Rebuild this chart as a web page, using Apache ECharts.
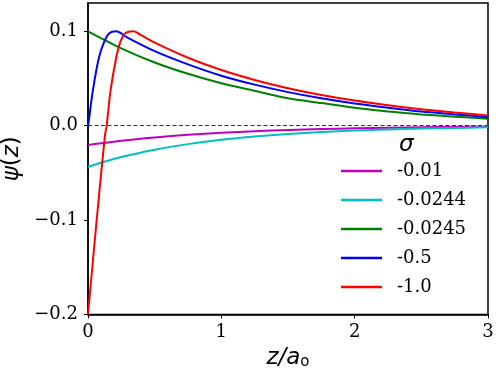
<!DOCTYPE html>
<html lang="en">
  <head>
    <meta charset="UTF-8" />
    <title>psi(z)</title>
    <script src="https://cdn.jsdelivr.net/npm/echarts@6.0.0/dist/echarts.min.js"></script>
    <style>
      body { margin: 0; background: #fff; }
    </style>
  </head>
  <body>
    <div id="main" style="width: 498px; height: 374px"></div>
    <script type="text/javascript">
      // values
      const sigmas = ["-0.01", "-0.0244", "-0.0245", "-0.5", "-1.0"];
      const colors = ["#bf00bf", "#00bfbf", "#008000", "#0000ff", "#ff0000"];
      const yTicks = [-0.2, -0.1, 0.0, 0.1];

      const zTail = [0, 0.25, 0.5, 0.75, 1, 1.25, 1.5, 1.75, 2, 2.25, 2.5, 2.75, 3];
      const psiMagenta = [-0.0204, -0.0159, -0.0124, -0.0096, -0.0075, -0.0058, -0.0046, -0.0035, -0.0028, -0.0021, -0.0017, -0.0013, -0.001];
      const psiCyan = [-0.0434, -0.0332, -0.0254, -0.0195, -0.0149, -0.0114, -0.0087, -0.0067, -0.0051, -0.0039, -0.003, -0.0023, -0.0017];
      const psiGreen = [0.1, 0.082, 0.067, 0.055, 0.045, 0.037, 0.029, 0.024, 0.019, 0.015, 0.012, 0.0095, 0.0075];

      const zBlue = [0, 0.005, 0.035, 0.08, 0.122, 0.16, 0.21, 0.3, 0.5, 0.75, 1, 1.25, 1.5, 1.75, 2, 2.25, 2.5, 2.75, 3];
      const psiBlue = [0, 0.004, 0.036, 0.071, 0.089, 0.098, 0.1, 0.093, 0.079, 0.065, 0.053, 0.0435, 0.0356, 0.029, 0.0235, 0.019, 0.015, 0.012, 0.009];

      const zRed = [0, 0.065, 0.1275, 0.14, 0.168, 0.21, 0.243, 0.28, 0.34, 0.4, 0.5, 0.75, 1, 1.25, 1.5, 1.75, 2, 2.25, 2.5, 2.75, 3];
      const psiRed = [-0.2, -0.1, -0.01, 0, 0.036, 0.071, 0.089, 0.098, 0.1, 0.0957, 0.088, 0.072, 0.059, 0.0485, 0.0397, 0.0325, 0.0266, 0.0218, 0.0175, 0.014, 0.0107];

      const zs = [zTail, zTail, zTail, zBlue, zRed];
      const psis = [psiMagenta, psiCyan, psiGreen, psiBlue, psiRed];

      const serif = "DejaVu Serif";
      const sans = "DejaVu Sans";
      const fmtMinus = (v) => (v < 0 ? "\u2212" : "") + Math.abs(v).toFixed(1);

      const series = sigmas.map((name, i) => ({
        name: name,
        type: "line",
        data: zs[i].map((z, j) => [z, psis[i][j]]),
        showSymbol: false,
        symbol: "none",
        smooth: 0.3,
        sampling: null,
        lineStyle: { color: colors[i], width: 2 },
        itemStyle: { color: colors[i] },
        z: 3 + i,
      }));
      series[0].markLine = {
        silent: true,
        symbol: ["none", "none"],
        label: { show: false },
        lineStyle: { color: "#333", type: [4, 2.5], width: 1.2 },
        data: [{ yAxis: 0 }],
      };

      const options = {
        animation: false,
        grid: {
          left: 88, top: 3, width: 400, height: 311.5,
          outerBoundsMode: "none", containLabel: false,
          show: true, borderColor: "#000", borderWidth: 1.5,
        },
        xAxis: {
          type: "value", min: 0, max: 3, interval: 1,
          name: "{i|z/a}{s|o}",
          nameLocation: "middle", nameGap: 29,
          nameTextStyle: {
            rich: {
              i: { fontFamily: sans, fontStyle: "italic", fontSize: 23, color: "#000" },
              s: { fontFamily: sans, fontSize: 15, color: "#000", verticalAlign: "bottom", padding: [8, 0, 0, 0] },
            },
          },
          axisLine: { onZero: false, lineStyle: { color: "#000", width: 1.5 } },
          axisTick: { length: 4, lineStyle: { color: "#000", width: 1 } },
          axisLabel: {
            margin: 9, fontFamily: serif, fontSize: 18, color: "#000",
            formatter: (v) => String(v),
          },
          splitLine: { show: false },
        },
        yAxis: {
          type: "value", min: -0.2, max: 0.13,
          name: "{i|\u03c8}{n|(}{i|z}{n|)}",
          nameLocation: "middle", nameGap: 58, nameRotate: 90,
          nameTextStyle: {
            rich: {
              i: { fontFamily: sans, fontStyle: "italic", fontSize: 23, color: "#000" },
              n: { fontFamily: sans, fontSize: 23, color: "#000" },
            },
          },
          axisLine: { lineStyle: { color: "#000", width: 1.5 } },
          axisTick: { length: 4, customValues: yTicks, lineStyle: { color: "#000", width: 1 } },
          axisLabel: {
            margin: 10, fontFamily: serif, fontSize: 18, color: "#000",
            customValues: yTicks, formatter: fmtMinus,
          },
          splitLine: { show: false },
        },
        legend: {
          orient: "vertical", left: 336, top: 157,
          itemWidth: 41, itemHeight: 2.5, itemGap: 11,
          icon: "rect",
          data: sigmas,
          textStyle: { fontFamily: serif, fontSize: 18, color: "#000", padding: [0, 0, 0, 10] },
        },
        graphic: [
          {
            type: "text", left: 399, top: 134,
            style: { text: "\u03c3", font: "italic 23px 'DejaVu Sans'", fill: "#000" },
          },
        ],
        series: series,
      };

      let myChart = echarts.init(document.getElementById("main"));
      myChart.setOption(options);
    </script>
  </body>
</html>
